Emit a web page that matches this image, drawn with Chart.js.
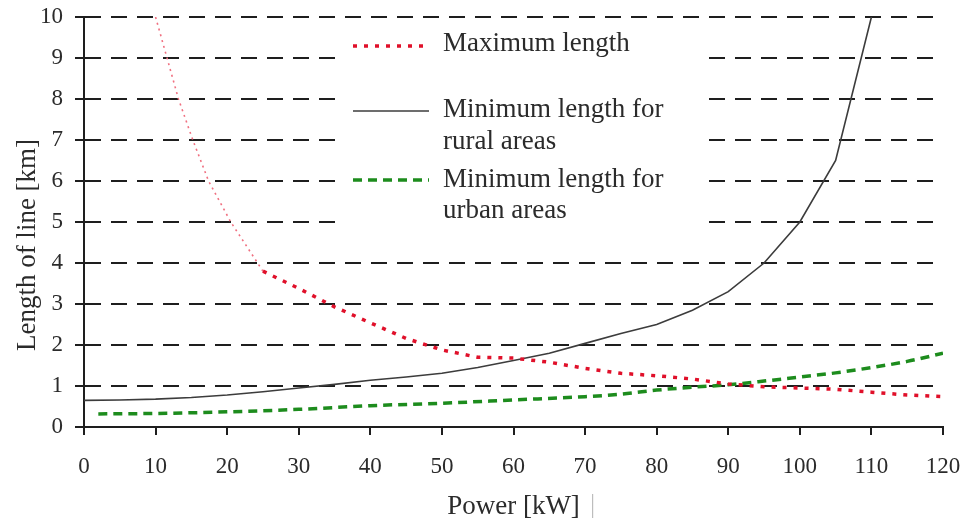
<!DOCTYPE html>
<html>
<head>
<meta charset="utf-8">
<script src="https://cdn.jsdelivr.net/npm/chart.js@4/dist/chart.umd.min.js"></script>
<style>
  html, body { margin: 0; padding: 0; background: #ffffff; }
  #wrap { position: relative; width: 964px; height: 520px; }
</style>
</head>
<body>
<div id="wrap"><canvas id="c" width="964" height="520"></canvas></div>
<script>
// ---- data ----
const powerMax = [10, 11.6, 13.2, 15.2, 17.4, 20.5, 25, 30, 35, 40, 45, 50, 55, 60, 65, 70, 75, 80, 85, 90, 95, 100, 105, 110, 115, 120];
const lengthMax = [10, 9, 8, 7, 6, 5, 3.8, 3.38, 2.93, 2.54, 2.16, 1.88, 1.7, 1.68, 1.58, 1.43, 1.31, 1.25, 1.17, 1.05, 0.98, 0.95, 0.92, 0.85, 0.78, 0.74];

const powerRural = [0, 5, 10, 15, 20, 25, 30, 35, 40, 45, 50, 55, 60, 65, 70, 75, 80, 85, 90, 95, 100, 105, 110];
const lengthRural = [0.65, 0.66, 0.68, 0.72, 0.78, 0.86, 0.95, 1.04, 1.14, 1.22, 1.31, 1.45, 1.62, 1.8, 2.04, 2.28, 2.5, 2.85, 3.3, 4.0, 5.0, 6.5, 10.0];

const powerUrban = [2, 10, 20, 30, 40, 50, 60, 70, 75, 80, 85, 90, 95, 100, 105, 110, 115, 120];
const lengthUrban = [0.32, 0.33, 0.37, 0.43, 0.52, 0.58, 0.66, 0.74, 0.8, 0.9, 0.97, 1.03, 1.12, 1.22, 1.32, 1.45, 1.6, 1.8];

const legendLabels = [
  ['Maximum length'],
  ['Minimum length for', 'rural areas'],
  ['Minimum length for', 'urban areas']
];
const xTitle = 'Power [kW]';
const yTitle = 'Length of line [km]';
const xMin = 0, xMax = 120, xStep = 10;
const yMin = 0, yMax = 10, yStep = 1;

// ---- styles ----
const SERIF = '"Liberation Serif", "DejaVu Serif", serif';
const TEXT = '#2b2b2b';
const AXIS = '#1e1e1e';
const RED = '#e0102a';
const RED_THIN = '#f07080';
const BLACK_LINE = '#3c3c3c';
const GREEN = '#1d8c1d';

const toXY = (xs, ys) => xs.map((x, i) => ({ x: x, y: ys[i] }));

const legendPlugin = {
  id: 'customLegend',
  beforeDatasetsDraw(chart) {
    const ctx = chart.ctx;
    ctx.save();
    ctx.fillStyle = '#ffffff';
    ctx.fillRect(340, 30, 368, 206);
    ctx.restore();
  },
  afterDraw(chart) {
    const ctx = chart.ctx;
    const ds = chart.data.datasets;
    const rows = [
      { lineY: 46, textY: [44] },
      { lineY: 111, textY: [110, 142] },
      { lineY: 180, textY: [180, 211] }
    ];
    ctx.save();
    rows.forEach((r, i) => {
      const d = ds[i];
      ctx.beginPath();
      ctx.lineCap = 'butt';
      ctx.strokeStyle = d.borderColor;
      ctx.lineWidth = d.borderWidth;
      ctx.setLineDash(d.borderDash || []);
      ctx.moveTo(353, r.lineY);
      ctx.lineTo(429, r.lineY);
      ctx.stroke();
      ctx.setLineDash([]);
      ctx.fillStyle = TEXT;
      ctx.font = '27px ' + SERIF;
      ctx.textAlign = 'left';
      ctx.textBaseline = 'middle';
      legendLabels[i].forEach((t, j) => ctx.fillText(t, 443, r.textY[j]));
    });
    // y-axis title
    ctx.translate(28, 245);
    ctx.rotate(-Math.PI / 2);
    ctx.font = '27px ' + SERIF;
    ctx.fillStyle = TEXT;
    ctx.textAlign = 'center';
    ctx.textBaseline = 'middle';
    ctx.fillText(yTitle, 0, 0);
    ctx.restore();
    // stray cursor mark next to the x title
    ctx.save();
    ctx.fillStyle = '#bdbdbd';
    ctx.fillRect(592, 494, 1.2, 24);
    ctx.restore();
  }
};

new Chart(document.getElementById('c'), {
  type: 'line',
  data: {
    datasets: [
      {
        label: legendLabels[0].join(' '),
        data: toXY(powerMax, lengthMax),
        borderColor: RED,
        borderWidth: 3.5,
        borderDash: [4, 7],
        pointRadius: 0,
        tension: 0,
        fill: false,
        segment: {
          borderWidth: c => (c.p0.parsed.x < 25 ? 1.6 : 3.5),
          borderColor: c => (c.p0.parsed.x < 25 ? RED_THIN : RED),
          borderDash: c => (c.p0.parsed.x < 25 ? [2, 4] : [4, 7])
        }
      },
      {
        label: legendLabels[1].join(' '),
        data: toXY(powerRural, lengthRural),
        borderColor: BLACK_LINE,
        borderWidth: 1.6,
        pointRadius: 0,
        tension: 0,
        fill: false
      },
      {
        label: legendLabels[2].join(' '),
        data: toXY(powerUrban, lengthUrban),
        borderColor: GREEN,
        borderWidth: 3.5,
        borderDash: [9, 6],
        pointRadius: 0,
        cubicInterpolationMode: 'monotone',
        fill: false
      }
    ]
  },
  options: {
    responsive: false,
    animation: false,
    layout: { padding: { top: 17, right: 21, left: 0, bottom: 0 } },
    plugins: {
      legend: { display: false },
      tooltip: { enabled: false }
    },
    scales: {
      x: {
        type: 'linear',
        min: xMin, max: xMax,
        afterFit(scale) {
          scale.height = 93;
          scale.paddingLeft = 0;
          scale.paddingRight = 0;
        },
        ticks: {
          stepSize: xStep,
          color: TEXT,
          padding: 18,
          font: { family: SERIF, size: 23 },
          maxRotation: 0
        },
        grid: {
          drawOnChartArea: false,
          drawTicks: true,
          tickLength: 8,
          color: AXIS,
          lineWidth: 2
        },
        border: { display: true, color: AXIS, width: 2 },
        title: {
          display: true,
          text: xTitle,
          color: TEXT,
          font: { family: SERIF, size: 27, lineHeight: 1 },
          padding: { top: 0, bottom: 0 }
        }
      },
      y: {
        type: 'linear',
        min: yMin, max: yMax,
        afterFit(scale) {
          scale.width = 84;
          scale.paddingTop = 0;
          scale.paddingBottom = 0;
        },
        ticks: {
          stepSize: yStep,
          color: TEXT,
          padding: 12,
          font: { family: SERIF, size: 23 }
        },
        grid: {
          drawOnChartArea: true,
          drawTicks: true,
          tickLength: 9,
          color: AXIS,
          lineWidth: 2,
          tickBorderDash: []
        },
        border: { display: true, color: AXIS, width: 2, dash: [16, 10] }
      }
    }
  },
  plugins: [legendPlugin]
});
</script>
</body>
</html>
